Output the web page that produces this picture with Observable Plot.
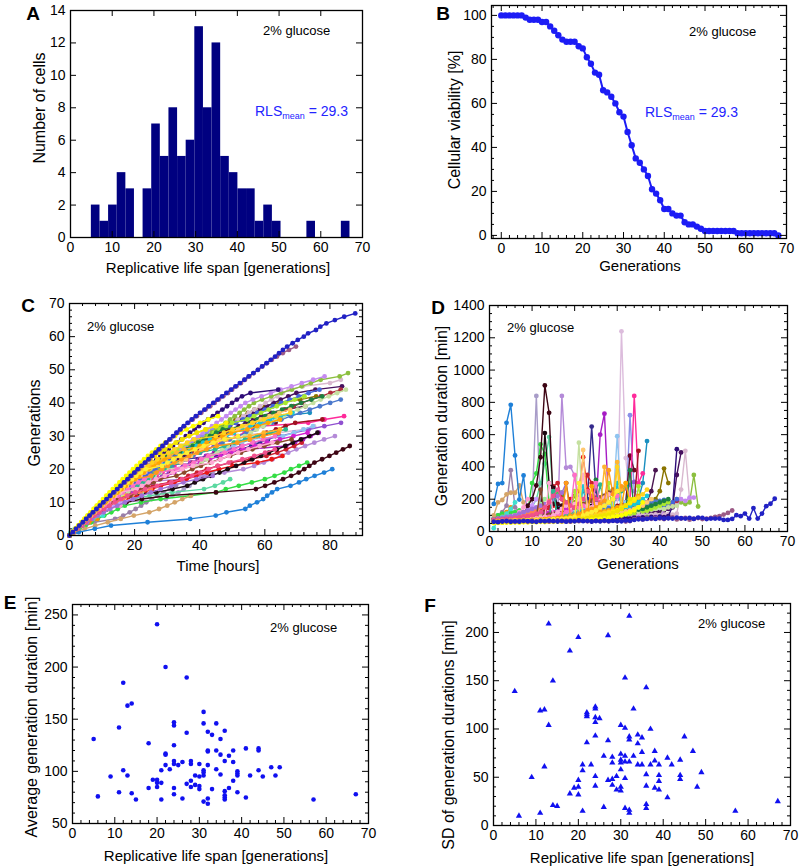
<!DOCTYPE html>
<html><head><meta charset="utf-8">
<script src="https://cdn.jsdelivr.net/npm/d3@7"></script>
<script src="https://cdn.jsdelivr.net/npm/@observablehq/plot@0.6"></script>
<style>
html,body{margin:0;padding:0;background:#fff;}
#fig{position:relative;width:800px;height:866px;overflow:hidden;font-family:'Liberation Sans',Arial,Helvetica,sans-serif;color:#000;background:#fff;}
.t{position:absolute;white-space:nowrap;line-height:1;}
.c{transform:translate(-50%,-50%);}
.l{transform:translateY(-50%);}
.r{transform:translate(-50%,-50%) rotate(-90deg);}
.letter{font-weight:bold;font-size:19px;}
.gl{font-size:13px;}
.xt{font-size:15px;}
.yt{font-size:16px;}
.rls{font-size:14px;color:#2424ff;}
.rls sub{font-size:9px;vertical-align:-3px;}
</style></head><body><div id="fig"></div><script>
// ---------- Panel A: histogram of replicative life span ----------
const histEdges = [5.00, 7.07, 9.13, 11.20, 13.27, 15.33, 17.40, 19.47, 21.53, 23.60, 25.67, 27.73, 29.80, 31.87, 33.93, 36.00, 38.07, 40.13, 42.20, 44.27, 46.33, 48.40, 50.47, 52.53, 54.60, 56.67, 58.73, 60.80, 62.87, 64.93, 67.00];
const histCounts = [2, 1, 2, 4, 3, 0, 3, 7, 5, 8, 5, 6, 13, 8, 12, 5, 4, 3, 3, 1, 2, 1, 0, 0, 0, 1, 0, 0, 0, 1];

// ---------- Panel B: survival curve ----------
const survGen = [0,1,2,3,4,5,6,7,8,9,10,11,12,13,14,15,16,17,18,19,20,21,22,23,24,25,26,27,28,29,30,31,32,33,34,35,36,37,38,39,40,41,42,43,44,45,46,47,48,49,50,51,52,53,54,55,56,57,58,59,60,61,62,63,64,65,66,67,68];
const survPct = [100,100,100,100,100,100,99,98,98,98,97,97,95,93,91,89,88,88,88,86,85,81,78,74,73,66,65,63,60,56,54,47,41,35,33,30,27,21,19,16,12,12,10,9,9,6,5,5,4,3,2,2,2,2,2,2,2,2,1,1,1,1,1,1,1,1,1,1,0];

// ---------- Panels C & D: per-cell generation durations [min] ----------
const cellColors = [
 "#a89cc8","#9a7fa8","#b48ad8","#dcbcdc","#8a90e8","#a61cc4","#342a8c","#1a8fc0","#4a1450","#8a7400",
 "#46105e","#d9b8cf","#6a0a28","#e81818","#cc1f2f","#5ad8a0","#33dd44","#d4a468","#1f80d8","#1c0a12",
 "#3d0514","#ff2a9a","#9050d0","#a01020","#8fc4f0","#d020d0","#8cbf3f","#c58af0","#2e0c78","#b02c3c",
 "#4a78cc","#4466dd","#c5e0a0","#ff8c00","#40e0d0","#ff99cc","#cc99ff","#ffd700","#99ee99","#ff7f50",
 "#a070d8","#a8e830","#1c8040","#18c8d8","#2ab890","#8b4a2b","#ff6ec7","#ffaad4","#f0508c","#ffc870",
 "#ffb52e","#ff9a1a","#ffa500","#ffd21f","#ffee33","#fff200","#f2e200","#ffff00","#9c5a86","#2121c4"
];
const cellDurations = [
 [75,80,85,82,90,88,95,92,100,150,840,120,110,100,105,95,110,100,115,120],
 [80,100,120,160,380,150,120,110,100,95,100,105,110,115,120],
 [65,70,72,68,75,73,78,76,74,80,77,82,79,84,81,86,840,395,400,347,200,180,160,150,140,150,160,170,180,200],
 [65,68,70,72,75,74,78,76,80,82,84,80,86,85,88,90,87,92,90,94,96,93,98,95,100,97,102,100,105,110,1240,455,200],
 [68,70,72,70,75,73,77,75,78,80,76,82,79,84,81,80,85,83,86,82,88,85,84,90,87,86,92,88,90,94,91,95,720,250,200],
 [70,75,78,82,80,85,88,92,90,95,98,100,105,110,108,115,118,122,125,130,128,135,140,145,150,600,730,160,150,140,150],
 [65,70,72,75,74,78,80,76,82,85,80,84,88,86,90,88,92,95,90,98,100,120,200,650,250,200,180,160,150,140],
 [70,72,75,78,80,82,85,84,88,90,86,92,95,90,96,98,94,100,102,98,104,106,100,108,110,105,112,115,110,118,120,125,130,150,200,300,560],
 [70,72,75,74,78,80,79,82,84,83,86,88,87,90,92,91,94,96,95,98,100,99,102,104,103,106,108,110,112,115,118,120,125,130,140,150,180,250,380],
 [68,70,72,71,74,76,75,78,77,80,79,82,81,84,83,86,85,88,87,90,89,92,91,94,93,96,95,98,97,100,102,104,106,108,110,112,115,118,200,250,390,300],
 [70,72,74,76,75,78,80,79,82,84,83,86,85,88,87,90,89,92,91,94,93,96,95,98,97,100,99,102,101,104,103,106,105,108,110,112,115,118,120,125,130,140,150,350,490],
 [70,72,75,74,78,80,77,82,80,84,83,86,85,88,86,90,88,92,89,94,90,92,95,93,96,94,98,95,97,100,96,99,102,98,101,104,100,103,106,102,105,108,104,110,260,500,200],
 [70,72,74,73,76,78,77,80,79,82,81,84,83,86,85,88,87,90,89,92,91,94,93,96,95,98,100,105,110,120,140,180,470,380],
 [70,75,80,85,90,95,100,110,120,130,140,150,135,145,160,250,220,180,200,220,250,460,260,200],
 [65,70,72,75,78,80,82,85,88,90,95,100,130,150,280,300,200,150,160,180,200,250,350,300,200,160,150,140],
 [70,75,80,85,90,95,100,110,120,150,200,300,420,585,200,150,130],
 [80,100,110,110,120,120,130,120,130,300,360,540,480,180,240,240,240,180,180,120,150,150],
 [100,180,195,230,240,240,285,180,150,140,140,160],
 [171,295,300,673,785,471,198,347,84,132,114,72,90,96,246,156,132,156,174,150],
 [70,75,80,78,85,82,80,88,84,90,86,92,610,300,270,140,150,145,160,150,155,148,150,158,150,145,155,140,150,152,152],
 [70,80,80,85,90,90,95,100,160,200,285,460,905,735,170,170,160,150,140,100,95,95,140,135,125,125,125],
 [70,72,75,78,80,82,85,88,86,90,92,95,98,100,96,102,105,108,110,106,112,115,118,120,125,122,130,135,140,145,150,160,170,840,300,360],
 [70,75,80,78,85,82,90,88,95,92,100,98,105,110,108,115,120,125,130,128,135,140,150,145,198,208,218,228,238,248,258,268,288,308],
 [75,78,80,85,88,90,86,95,98,100,96,104,108,110,115,112,120,118,125,130,128,135,140,138,145,150,148,155,160,158,165,170,175,180,500],
 [75,80,85,82,90,88,95,92,100,98,105,102,110,108,115,112,120,118,125,130,128,135,140,138,145,150,155,160,165,590,200,180,170],
 [70,74,78,80,84,86,90,92,95,98,100,105,110,115,120,125,130,135,140,150,160,170,180,190,200,210,220,230,240,250,260],
 [70,72,75,78,74,80,76,82,79,84,80,85,82,88,84,86,90,85,88,92,86,90,88,94,90,87,92,95,89,93,87,81,85,89,83,86,90,85,88,91,150,170,180,200,180,170,180,350,155],
 [65,68,70,72,70,75,72,78,74,80,76,78,82,80,77,84,80,82,79,85,82,80,86,83,81,88,84,82,86,90,85,83,88,86,90,87,84,89,92,88,140,160,170,180,200,190,210,210],
 [62,65,63,68,66,64,70,67,69,66,72,68,70,73,69,71,74,72,75,70,76,73,78,75,77,74,80,76,79,82,78,84,80,86,82,88,85,90,87,92,89,95,156,510],
 [72,75,78,80,78,84,82,86,88,85,90,92,95,90,96,98,100,95,102,105,100,108,104,110,112,108,115,118,112,120,125,130,128,135,140,138,145,150,160,155,170,180,175,190],
 [68,71,73,78,75,81,83,79,85,88,91,87,93,98,95,101,103,108,105,111,120,125,122,130,135,128,140,145,138,150,155,160,150,165,170,175,168,180,185,190,195],
 [65,68,70,72,70,75,73,78,76,80,78,82,80,85,83,88,85,90,88,92,95,90,98,95,100,105,100,110,108,115,112,120,118,125,130,128,135,140,150,145,160,170,180,200],
 [70,74,76,80,78,82,85,83,88,86,90,94,92,96,98,95,100,104,102,106,550,108,92,95,98,94,100,104,102,108,112,110,116,120,125,130,128,135,140,145,138,150,155,160],
 [70,80,90,120,150],
 [20,75,90,110,140,180],
 [60,65,70,80,90,100,120,150,200],
 [62,68,72,78,85,90,100,110,130,160,200],
 [58,60,62,65,68,72,78,85,95,110,130,160],
 [60,64,66,70,75,80,88,95,105,120,140,170,200],
 [64,66,70,74,78,84,90,98,108,120,135,150,170,190],
 [70,80,85,90,95,100,110,120,130,140,150,160,170,180,200,220,240,300],
 [55,58,57,60,59,62,61,64,63,66,65,68,67,70,69,72,71,74,73,250,78,80,82,84,86,88,90,300,95,98,100,105,110,115,280,125,130,140,150,160,170,180],
 [60,62,64,63,66,65,68,67,70,69,72,71,74,73,76,75,78,77,80,82,84,86,88,90,320,95,98,100,105,110,115,120,380,130,135,140,150,160,170,180,190,200],
 [62,65,64,67,66,69,68,71,70,73,72,75,74,77,76,79,78,81,80,84,88,280,96,100,105,110,115,120,125,300,140,150,160,170,180,200,220],
 [64,66,68,67,70,72,71,74,73,76,75,78,80,82,250,88,90,95,100,105,110,120,130,140,150,290,170,180,200,220,250,280],
 [68,70,72,75,74,78,80,82,85,88,90,260,100,105,110,115,120,300,140,150,160,170,180,190,200,210,220,240,260],
 [65,68,70,72,71,74,76,75,78,80,82,85,88,90,95,100,110,120,130,350,150,160,140,130,300,170,160,180,200,220],
 [60,62,65,64,66,68,70,72,75,78,80,85,90,300,100,120,140,160,150,170,200,350,160,150,170,190,210,230],
 [70,72,75,78,80,85,88,92,95,100,110,120,150,180,220,260,200,180,160,150,170,200,250,220,200,180],
 [62,64,66,65,68,70,69,72,71,74,73,76,75,78,77,80,79,82,81,84,86,505,90,92,95,98,100,105,110,115,120,125,130,140,150,160,180,200],
 [58,60,61,63,62,65,64,67,66,69,68,71,70,73,75,78,80,84,88,92,96,100,110,120,130,140,400,180,200,430,260,300],
 [60,62,63,65,64,67,66,69,68,71,72,74,76,78,80,84,88,300,96,100,110,120,130,140,150,170,190,380,230,250,280],
 [60,62,64,63,66,65,68,70,69,72,71,74,76,75,78,80,82,85,88,90,95,100,105,280,115,120,125,130,140,150,160,300,180,200,220],
 [56,58,60,59,62,61,64,63,66,65,68,67,70,69,72,74,76,78,80,83,86,90,94,98,102,108,115,122,130,400,150,160,175,190,210,230,260],
 [58,60,62,61,63,65,64,66,68,67,70,72,71,74,76,75,78,80,85,90,300,100,110,120,130,150,160,180,200,250],
 [54,56,55,58,57,59,58,61,60,62,61,63,64,63,65,67,66,68,70,72,75,78,82,86,90,95,100,110,120,130,145,160,180,200],
 [55,57,56,58,60,59,61,60,62,63,62,64,65,64,66,67,66,68,70,72,75,78,82,85,90,95,100,105,115,125,140,160,200],
 [52,54,55,56,55,57,56,58,57,59,58,60,59,61,60,62,61,63,62,64,66,68,70,72,75,78,80,85,90,95,100,110,120,130,150,180],
 [62,60,64,63,66,61,65,64,62,67,63,65,66,62,64,68,63,65,61,66,64,67,63,62,66,64,65,63,67,64,66,62,65,77,80,75,83,79,85,81,77,83,87,75,80,85,73,79,83,77,80,85,90,95,105,115,130],
 [60,58,62,65,60,63,61,66,64,62,60,65,63,67,64,62,66,61,65,63,68,64,66,62,65,63,67,64,66,65,63,68,66,72,76,75,78,82,78,84,80,82,80,86,82,80,84,78,86,85,77,80,80,80,72,72,78,101,95,111,80,145,80,111,157,172,203]
];

// ---------- Panel E: average generation duration vs RLS ----------
const eRls  = [5,6,9,11,11,12,12,13,13,14,14,15,18,18,19,20,20,20,20,21,21,21,22,22,22,22,23,24,24,24,24,24,24,24,25,26,26,27,27,27,28,28,28,28,29,29,30,30,30,30,31,31,31,31,31,31,32,32,32,32,32,32,33,33,34,34,34,35,35,35,36,36,36,36,36,36,37,37,38,38,38,39,39,39,39,41,41,42,44,44,44,45,47,48,49,57,67];
const eMean = [131,76,95,142,80,185,101,163,96,165,79,73,127,84,92,241,92,89,85,89,101,73,200,117,116,106,102,147,144,125,110,107,84,78,106,109,74,190,137,88,110,107,91,85,96,87,107,95,86,83,157,146,101,99,96,71,138,120,119,106,74,69,135,83,146,120,102,131,116,97,139,110,81,77,75,73,115,84,120,109,91,100,98,96,80,122,75,96,122,120,101,95,104,96,104,73,78];

// ---------- Panel F: SD of generation durations vs RLS ----------
const fRls = [5,6,9,11,11,12,12,13,13,14,14,15,18,18,19,20,20,20,20,21,21,21,22,22,22,22,23,24,24,24,24,24,24,24,25,26,26,27,27,27,28,28,28,28,29,29,30,30,30,30,30,30,30,31,31,31,31,31,31,32,32,32,32,32,32,33,33,34,34,34,35,35,35,36,36,36,36,36,37,37,38,38,38,39,39,39,39,41,41,42,44,44,44,45,47,48,49,57,67];
const fSd  = [139,10,50,13,119,120,61,209,104,150,21,20,181,33,39,195,47,40,32,63,57,15,117,115,113,86,63,123,121,112,107,93,51,41,111,72,19,88,47,197,71,65,48,42,51,37,104,74,68,65,58,40,36,101,153,72,66,49,18,217,92,89,66,16,13,121,72,94,85,63,91,76,63,143,53,41,22,18,100,63,77,67,39,63,52,46,37,29,70,63,68,52,48,92,77,40,55,15,25];

// ---------- tick values ----------
const ticks0to70 = [0,10,20,30,40,50,60,70];
const yTicksA = [0,2,4,6,8,10,12,14];
const yTicksB = [0,20,40,60,80,100];
const xTicksC = [0,20,40,60,80];
const yTicksC = [0,10,20,30,40,50,60,70];
const yTicksD = [0,200,400,600,800,1000,1200,1400];
const yTicksE = [50,100,150,200,250];
const yTicksF = [0,50,100,150,200];

const FONT = "'Liberation Sans', Arial, Helvetica, sans-serif";
const fig = document.getElementById("fig");

function minorTicks(spec, major, dom) {
  if (!spec) return [];
  const lo = Math.min(...dom), hi = Math.max(...dom);
  return d3.range(spec[0], spec[1] + 1e-9, spec[2])
    .filter(v => v >= lo - 1e-9 && v <= hi + 1e-9 && !major.some(t => Math.abs(t - v) < 1e-9));
}

function makePanel(o) {
  const iw = o.width - o.ml - o.mr, ih = o.height - o.mt - o.mb;
  const xm = minorTicks(o.xMinor, o.xTicks, o.xDomain);
  const ym = minorTicks(o.yMinor, o.yTicks, o.yDomain);
  const ticks = (xs, ys, len) => [
    Plot.tickX(xs, {x: d => d, insetTop: ih - len, stroke: "#000", strokeWidth: 1}),
    Plot.tickX(xs, {x: d => d, insetBottom: ih - len, stroke: "#000", strokeWidth: 1}),
    Plot.tickY(ys, {y: d => d, insetRight: iw - len, stroke: "#000", strokeWidth: 1}),
    Plot.tickY(ys, {y: d => d, insetLeft: iw - len, stroke: "#000", strokeWidth: 1})
  ];
  const svg = Plot.plot({
    width: o.width, height: o.height,
    marginLeft: o.ml, marginRight: o.mr, marginTop: o.mt, marginBottom: o.mb,
    x: {domain: o.xDomain}, y: {domain: o.yDomain},
    style: {fontFamily: FONT, fontSize: (o.fontSize || 14) + "px", background: "transparent", overflow: "visible", color: "#000"},
    marks: [
      ...o.marks,
      ...ticks(o.xTicks, o.yTicks, 6),
      ...ticks(xm, ym, 3),
      Plot.frame({stroke: "#000", strokeWidth: 1.3}),
      Plot.axisX(o.xTicks, {tickSize: 0, tickPadding: 5, tickFormat: d => String(d), label: null}),
      Plot.axisY(o.yTicks, {tickSize: 0, tickPadding: 5, tickFormat: d => String(d), label: null})
    ]
  });
  svg.style.position = "absolute";
  svg.style.left = o.left + "px";
  svg.style.top = o.top + "px";
  fig.appendChild(svg);
}

// ---------- A ----------
const histRows = histCounts.map((n, i) => ({lo: histEdges[i], hi: histEdges[i + 1], n}));
makePanel({
  left: 0, top: 0, width: 400, height: 290, ml: 70, mr: 38, mt: 10, mb: 53,
  xDomain: [0, 70], yDomain: [0, 14], xTicks: ticks0to70, yTicks: yTicksA,
  marks: [Plot.rectY(histRows, {x1: "lo", x2: "hi", y: "n", fill: "#000080", inset: 0})]
});

// ---------- B ----------
const survRows = survGen.map((g, i) => ({g, p: survPct[i]}));
makePanel({
  left: 400, top: 0, width: 400, height: 290, ml: 91, mr: 14, mt: 5, mb: 52, fontSize: 14,
  xDomain: [-2.4, 70], yDomain: [-1.4, 104.5], xTicks: ticks0to70, yTicks: yTicksB,
  xMinor: [-2, 70, 2], yMinor: [0, 100, 5],
  marks: [
    Plot.line(survRows, {x: "g", y: "p", stroke: "#1c1cf5", strokeWidth: 2}),
    Plot.dot(survRows, {x: "g", y: "p", fill: "#1c1cf5", r: 3.2, stroke: null})
  ]
});

// ---------- C & D ----------
const marksC = [], marksD = [];
cellDurations.forEach((durs, i) => {
  const col = cellColors[i];
  const rowsC = [{g: 0, h: 0}];
  let t = 0;
  durs.forEach((d, j) => { t += d; rowsC.push({g: j + 1, h: t / 60}); });
  const rowsD = durs.map((d, j) => ({g: j + 1, m: d}));
  marksC.push(Plot.line(rowsC, {x: "h", y: "g", stroke: col, strokeWidth: 1.4}));
  marksC.push(Plot.dot(rowsC, {x: "h", y: "g", fill: col, r: 2.4, stroke: null}));
  marksD.push(Plot.line(rowsD, {x: "g", y: "m", stroke: col, strokeWidth: 1.4}));
  marksD.push(Plot.dot(rowsD, {x: "g", y: "m", fill: col, r: 2.4, stroke: null}));
});
makePanel({
  left: 0, top: 290, width: 400, height: 290, ml: 69, mr: 38, mt: 13, mb: 45,
  xDomain: [0, 90], yDomain: [0, 70], xTicks: xTicksC, yTicks: yTicksC,
  xMinor: [0, 90, 4], yMinor: [0, 70, 2], marks: marksC
});
makePanel({
  left: 400, top: 290, width: 400, height: 290, ml: 89, mr: 13, mt: 15, mb: 49,
  xDomain: [0, 70], yDomain: [0, 1400], xTicks: ticks0to70, yTicks: yTicksD,
  xMinor: [0, 70, 2], yMinor: [0, 1400, 50], marks: marksD
});

// ---------- E ----------
const eRows = eRls.map((r, i) => ({r, v: eMean[i]}));
makePanel({
  left: 0, top: 580, width: 400, height: 286, ml: 72, mr: 32, mt: 24, mb: 43,
  xDomain: [0, 70], yDomain: [50, 260], xTicks: ticks0to70, yTicks: yTicksE,
  xMinor: [0, 70, 2], yMinor: [50, 260, 10],
  marks: [Plot.dot(eRows, {x: "r", y: "v", fill: "#1010f0", r: 2.3, stroke: null})]
});

// ---------- F ----------
const fRows = fRls.map((r, i) => ({r, v: fSd[i]}));
makePanel({
  left: 400, top: 580, width: 400, height: 286, ml: 93, mr: 10, mt: 23, mb: 41,
  xDomain: [0, 70], yDomain: [0, 230], xTicks: ticks0to70, yTicks: yTicksF,
  xMinor: [0, 70, 2], yMinor: [0, 230, 10],
  marks: [Plot.dot(fRows, {x: "r", y: "v", fill: "#1010f0", r: 2.3, symbol: "triangle", stroke: null})]
});

// ---------- text overlays ----------
function addText(html, cls, x, y) {
  const d = document.createElement("div");
  d.className = "t " + cls;
  d.style.left = x + "px";
  d.style.top = y + "px";
  d.innerHTML = html;
  fig.appendChild(d);
}
addText("A", "letter c", 33, 13);
addText("B", "letter c", 443, 13);
addText("C", "letter c", 28, 305);
addText("D", "letter c", 438, 307);
addText("E", "letter c", 10, 602);
addText("F", "letter c", 430, 605);
addText("2% glucose", "gl l", 263, 30);
addText("2% glucose", "gl l", 689, 31);
addText("2% glucose", "gl l", 87, 326);
addText("2% glucose", "gl l", 507, 327);
addText("2% glucose", "gl l", 270, 627);
addText("2% glucose", "gl l", 698, 623);
addText("RLS<sub>mean</sub> = 29.3", "rls l", 255, 112);
addText("RLS<sub>mean</sub> = 29.3", "rls l", 645, 113);
addText("Replicative life span [generations]", "xt c", 218, 267);
addText("Generations", "xt c", 640, 265);
addText("Time [hours]", "xt c", 218, 565);
addText("Generations", "xt c", 638, 563);
addText("Replicative life span [generations]", "xt c", 216, 855);
addText("Replicative life span [generations]", "xt c", 642, 857);
addText("Number of cells", "yt r", 40, 108);
addText("Cellular viability [%]", "yt r", 455, 120);
addText("Generations", "yt r", 35, 423);
addText("Generation duration [min]", "yt r", 442, 416);
addText("Average generation duration [min]", "yt r", 32, 717);
addText("SD of generation durations [min]", "yt r", 449, 735);
</script></body></html>
